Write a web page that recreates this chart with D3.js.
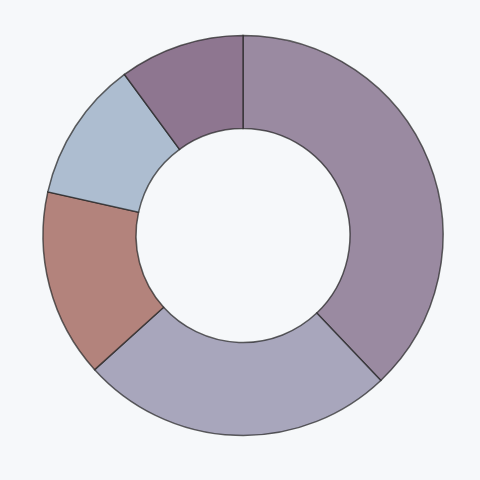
<!DOCTYPE html>
<html>
<head>
<meta charset="utf-8">
<script src="https://cdn.jsdelivr.net/npm/d3@7"></script>
<style>
    html, body { margin: 0; padding: 0; background: #f6f8fa; }
    #chart svg { display: block; }
</style>
</head>
<body>
<div id="chart"></div>
<script>
// slice values, clockwise from 12 o'clock
const categories = ["A", "B", "C", "D", "E"];
const values = [37.9, 25.4, 15.2, 11.4, 10.1];
const colors = ["#9a8aa1", "#a8a6bc", "#b3837c", "#adbdd0", "#8e7690"];

const width = 480, height = 480;
const cx = 243, cy = 235.5;
const outerR = 200, innerR = 107;

const svg = d3.select("#chart")
    .append("svg")
    .attr("width", width)
    .attr("height", height)
    .append("g")
    .attr("transform", `translate(${cx},${cy})`);

const data = categories.map((c, i) => ({ name: c, value: values[i] }));

const pie = d3.pie()
    .sort(null)
    .value(d => d.value);

const arc = d3.arc()
    .innerRadius(innerR)
    .outerRadius(outerR);

const color = d3.scaleOrdinal()
    .domain(categories)
    .range(colors);

// semi-transparent stroke so shared radial edges come out darker
svg.selectAll("path")
    .data(pie(data))
    .enter().append("path")
    .attr("d", arc)
    .style("fill", d => color(d.data.name))
    .style("stroke", "#222")
    .style("stroke-opacity", "0.7")
    .style("stroke-width", "1.5");
</script>
</body>
</html>
